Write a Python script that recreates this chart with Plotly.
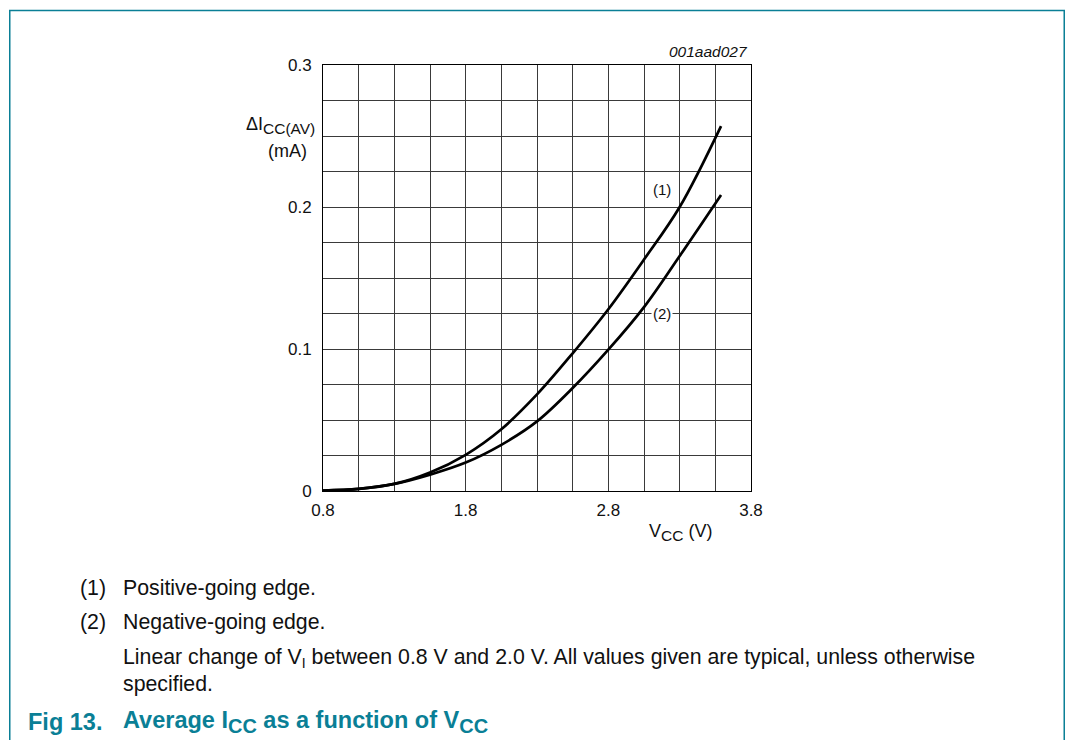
import plotly.graph_objects as go

# ---- data ----
vcc = [0.8, 1.05, 1.3, 1.55, 1.8, 2.05, 2.3, 2.55, 2.8, 3.05, 3.3, 3.59]
icc_pos = [0.0003, 0.0015, 0.005, 0.013, 0.0255, 0.0435, 0.068, 0.097, 0.128, 0.163, 0.200, 0.257]
icc_neg = [0.0003, 0.0015, 0.005, 0.0115, 0.020, 0.0325, 0.049, 0.0725, 0.0995, 0.1295, 0.1655, 0.2085]
x_ticks = [0.8, 1.8, 2.8, 3.8]
y_ticks = [0, 0.1, 0.2, 0.3]
y_tick_text = ["0", "0.1", "0.2", "0.3"]
curve_labels = ["(1)", "(2)"]
label_pos = [(3.178, 0.212), (3.178, 0.125)]

W, H = 1066, 740
L, R, T, B = 323.3, 750.7, 65.0, 491.0
TEAL = "#0a7f96"
FONT = "Arial, 'Liberation Sans', sans-serif"


def px(x):
    return (x - L) / (R - L)


def py(y):
    return (B - y) / (B - T)


def sub(s, size):
    return f"<sub><span style='font-size:{size}px'>{s}</span></sub>"


fig = go.Figure()
for ys in (icc_pos, icc_neg):
    fig.add_trace(go.Scatter(x=vcc, y=ys, mode="lines",
                             line=dict(color="black", width=2.7, shape="spline", smoothing=1.0),
                             showlegend=False, hoverinfo="skip"))

grid_color = "#3a3a3a"
fig.update_xaxes(range=[0.8, 3.8], tickvals=x_ticks, ticktext=[f"{v:.1f}" for v in x_ticks],
                 showgrid=True, gridcolor=grid_color, gridwidth=1,
                 minor=dict(tick0=0.8, dtick=0.25, showgrid=True, gridcolor=grid_color, gridwidth=1),
                 showline=True, linecolor="black", linewidth=1, mirror=True,
                 zeroline=False, ticks="", tickfont=dict(size=17, color="#111"),
                 ticklabelstandoff=4, fixedrange=True)
fig.update_yaxes(range=[0, 0.3], tickvals=y_ticks, ticktext=y_tick_text,
                 showgrid=True, gridcolor=grid_color, gridwidth=1,
                 minor=dict(tick0=0, dtick=0.025, showgrid=True, gridcolor=grid_color, gridwidth=1),
                 showline=True, linecolor="black", linewidth=1, mirror=True,
                 zeroline=False, ticks="", tickfont=dict(size=17, color="#111"),
                 ticklabelstandoff=7, fixedrange=True)

ann = []


def text(x, y, s, size=15, xanchor="left", yanchor="middle", color="#111"):
    ann.append(dict(x=px(x), y=py(y), xref="paper", yref="paper", text=s, showarrow=False,
                    xanchor=xanchor, yanchor=yanchor, font=dict(size=size, color=color, family=FONT)))


text(750, 52, "<i>001aad027</i>", size=15.5, xanchor="right")
text(281, 126, "ΔI" + sub("CC(AV)", 15.5), size=18, xanchor="center")
text(288, 151, "(mA)", size=18, xanchor="center")
text(680, 532, "V" + sub("CC", 15.5) + " (V)", size=18, xanchor="center")

for lab, (lx, ly) in zip(curve_labels, label_pos):
    ann.append(dict(x=lx, y=ly, xref="x", yref="y", text=lab, showarrow=False,
                    xanchor="center", yanchor="middle", bgcolor="white", borderpad=1,
                    font=dict(size=15, color="#111", family=FONT)))

FN = 21.3
text(79, 588, "(1)", size=FN)
text(122, 588, "Positive-going edge.", size=FN)
text(79, 622, "(2)", size=FN)
text(122, 622, "Negative-going edge.", size=FN)
text(122, 658, "Linear change of V" + sub("I", 14) + " between 0.8 V and 2.0 V. All values given are typical, unless otherwise", size=FN)
text(122, 684, "specified.", size=FN)
text(27, 722, "<b>Fig 13.</b>", size=23.5, color=TEAL)
text(122, 722, "<b>Average I" + sub("CC", 20) + " as a function of V" + sub("CC", 20) + "</b>", size=23.5, color=TEAL)

shapes = [dict(type="path", xref="paper", yref="paper",
               path=f"M {px(10.5)},{py(745)} L {px(10.5)},{py(10.5)} L {px(1063.5)},{py(10.5)} L {px(1063.5)},{py(745)}",
               line=dict(color=TEAL, width=1.5))]

fig.update_layout(width=W, height=H, autosize=False,
                  margin=dict(l=L, r=W - R, t=T, b=H - B, pad=0),
                  paper_bgcolor="white", plot_bgcolor="white",
                  font=dict(family=FONT, color="#111"),
                  annotations=ann, shapes=shapes)

fig.write_html("out.html", config={"displayModeBar": False},
               post_script="document.body.style.margin='0';document.body.style.overflow='hidden';")
